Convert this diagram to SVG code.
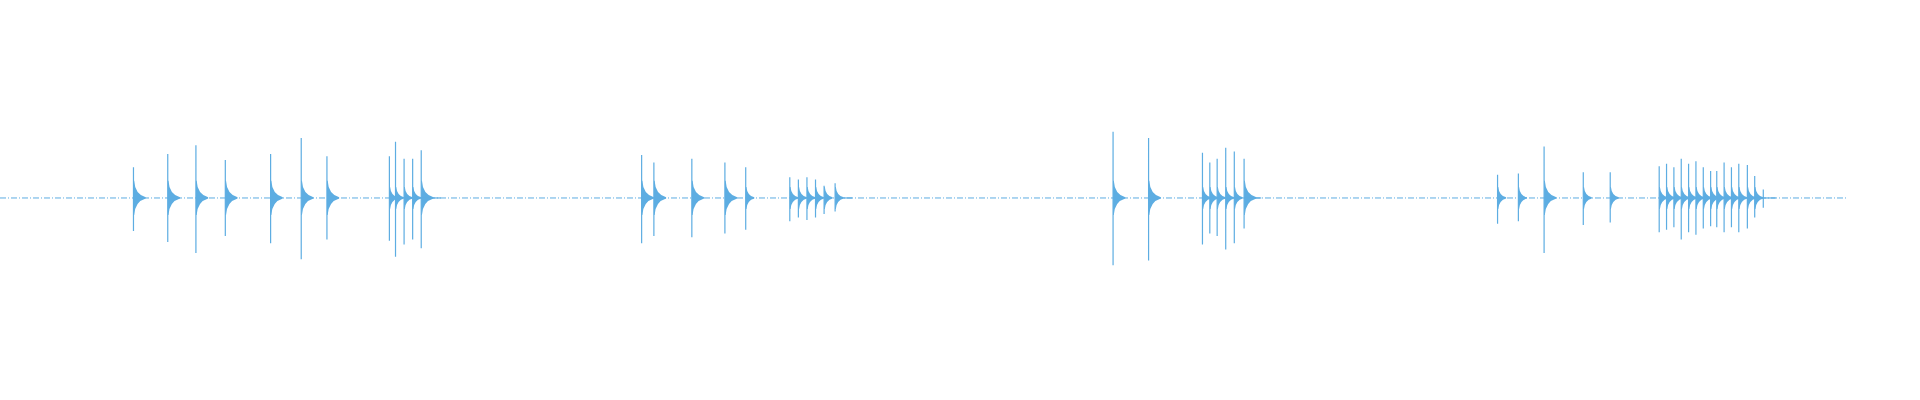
<svg xmlns="http://www.w3.org/2000/svg" width="1920" height="400" viewBox="0 0 1920 400">
<style>
.d{stroke:#5dade2;stroke-width:1;stroke-dasharray:6 2 1 2;vector-effect:non-scaling-stroke}
.s{stroke:#5dade2;stroke-width:1.2;vector-effect:non-scaling-stroke}
.t{fill:#5dade2}
</style>
<defs>
<path id="tl" class="t" d="M0,-14L0.6,-14Q1.2,-3 10,-0.5L10,0.5Q1.2,3 0.6,14L0,14Z"/>
<path id="ts" class="t" d="M0,-9L0.6,-9Q1.2,-2 7,-0.5L7,0.5Q1.2,2 0.6,9L0,9Z"/>
</defs>
<rect width="1920" height="400" fill="#fff"/>
<g id="wave" transform="translate(0,-0.4) scale(1.2245)">
<line class="d" x1="0" y1="162" x2="1508" y2="162"/>
<g id="g1">
<path class="s" d="M109,137V189M137,126V198M160,119V207M184,131V193M221,126V199M246,113V212M267,128V196M318,128V197M323,116V210M330,130V200M337,130V196M344,123V203"/>
<use href="#tl" x="109" y="162"/><use href="#tl" x="137" y="162"/><use href="#tl" x="160" y="162"/><use href="#tl" x="184" y="162"/><use href="#tl" x="221" y="162"/><use href="#tl" x="246" y="162"/><use href="#tl" x="267" y="162"/>
<use href="#ts" x="318" y="162"/><use href="#ts" x="323" y="162"/><use href="#ts" x="330" y="162"/><use href="#ts" x="337" y="162"/><use href="#tl" x="344" y="162"/>
<line class="s" x1="344" y1="162" x2="360" y2="162"/>
</g>
<g id="g2">
<path class="s" d="M524,127V199M534,133V193M565,130V194M592,133V191M609,137V188M645,145V181M652,147V178M659,145V180M666,147V178M673,152V175M682,150V173"/>
<use href="#tl" x="524" y="162"/><use href="#tl" x="534" y="162"/><use href="#tl" x="565" y="162"/><use href="#tl" x="592" y="162"/><use href="#ts" x="609" y="162"/>
<use href="#ts" x="645" y="162"/><use href="#ts" x="652" y="162"/><use href="#ts" x="659" y="162"/><use href="#ts" x="666" y="162"/><use href="#ts" x="673" y="162"/><use href="#ts" x="682" y="162"/>
<line class="s" x1="682" y1="162" x2="696" y2="162"/>
</g>
<g id="g3">
<path class="s" d="M909,108V217M938,113V213M982,125V200M988,133V191M994,130V193M1001,121V204M1008,124V199M1016,130V187"/>
<use href="#tl" x="909" y="162"/><use href="#tl" x="938" y="162"/><use href="#ts" x="982" y="162"/><use href="#ts" x="988" y="162"/><use href="#ts" x="994" y="162"/><use href="#ts" x="1001" y="162"/><use href="#ts" x="1008" y="162"/><use href="#tl" x="1016" y="162"/>
<line class="s" x1="1016" y1="162" x2="1030" y2="162"/>
</g>
<g id="g4">
<path class="s" d="M1223,143V183M1240,142V181M1261,120V207M1293,141V184M1315,141V182M1355,136V190M1361,134V188M1367,137V186M1373,130V196M1379,134V190M1385,132V192M1391,137V187M1397,140V185M1402,140V186M1408,133V190M1414,137V186M1420,134V190M1427,135V187M1433,144V178M1440,155V170"/>
<use href="#ts" x="1223" y="162"/><use href="#ts" x="1240" y="162"/><use href="#tl" x="1261" y="162"/><use href="#ts" x="1293" y="162"/><use href="#ts" x="1315" y="162"/>
<use href="#ts" x="1355" y="162"/><use href="#ts" x="1361" y="162"/><use href="#ts" x="1367" y="162"/><use href="#ts" x="1373" y="162"/><use href="#ts" x="1379" y="162"/><use href="#ts" x="1385" y="162"/><use href="#ts" x="1391" y="162"/><use href="#ts" x="1397" y="162"/><use href="#ts" x="1402" y="162"/><use href="#ts" x="1408" y="162"/><use href="#ts" x="1414" y="162"/><use href="#ts" x="1420" y="162"/><use href="#ts" x="1427" y="162"/><use href="#ts" x="1433" y="162"/>
<line class="s" x1="1433" y1="162" x2="1450" y2="162"/>
</g>
</g>
</svg>
